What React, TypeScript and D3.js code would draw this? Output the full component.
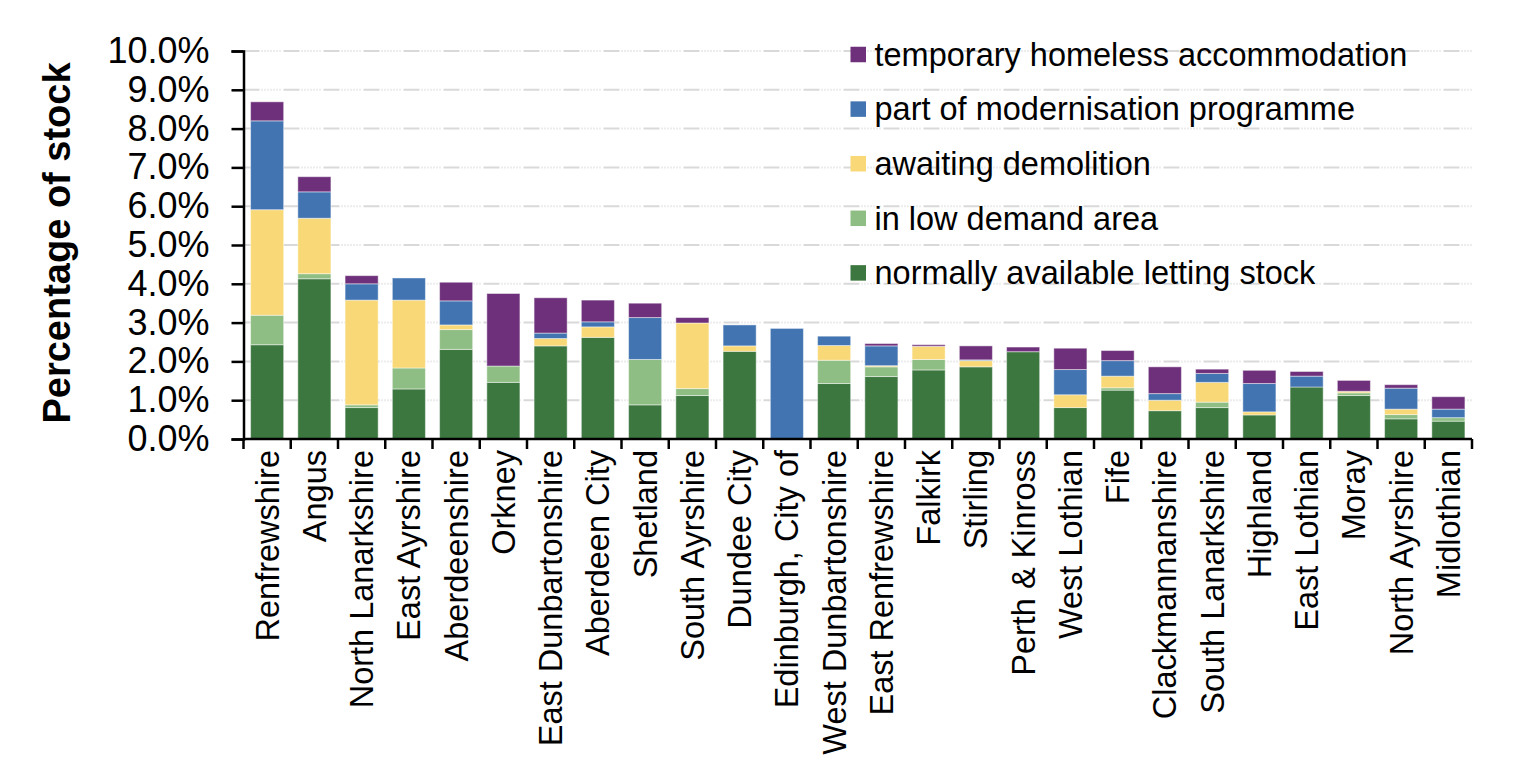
import React, { useRef, useEffect } from "react";
import * as d3 from "d3";

const councils = [
  "Renfrewshire",
  "Angus",
  "North Lanarkshire",
  "East Ayrshire",
  "Aberdeenshire",
  "Orkney",
  "East Dunbartonshire",
  "Aberdeen City",
  "Shetland",
  "South Ayrshire",
  "Dundee City",
  "Edinburgh, City of",
  "West Dunbartonshire",
  "East Renfrewshire",
  "Falkirk",
  "Stirling",
  "Perth & Kinross",
  "West Lothian",
  "Fife",
  "Clackmannanshire",
  "South Lanarkshire",
  "Highland",
  "East Lothian",
  "Moray",
  "North Ayrshire",
  "Midlothian",
];

// values in % of stock, bottom to top of each stack
const normallyAvailable = [
  2.43, 4.13, 0.81, 1.29, 2.31, 1.46, 2.4, 2.62, 0.88, 1.12, 2.26, 0, 1.43,
  1.61, 1.78, 1.86, 2.25, 0.81, 1.26, 0.73, 0.81, 0.62, 1.34, 1.12, 0.52, 0.46,
];
const lowDemand = [
  0.76, 0.13, 0.07, 0.54, 0.51, 0.42, 0, 0, 1.17, 0.18, 0, 0, 0.6, 0.25, 0.27,
  0, 0, 0, 0.06, 0, 0.14, 0, 0, 0.07, 0.11, 0.09,
];
const awaitingDemolition = [
  2.72, 1.43, 2.7, 1.75, 0.12, 0, 0.19, 0.27, 0, 1.69, 0.14, 0, 0.38, 0.03,
  0.34, 0.16, 0, 0.33, 0.3, 0.27, 0.51, 0.08, 0, 0.04, 0.14, 0,
];
const modernisation = [
  2.29, 0.68, 0.42, 0.57, 0.62, 0, 0.14, 0.13, 1.08, 0, 0.54, 2.85, 0.24, 0.51,
  0, 0.02, 0, 0.65, 0.4, 0.17, 0.23, 0.73, 0.28, 0, 0.54, 0.22,
];
const temporaryHomeless = [
  0.49, 0.39, 0.21, 0, 0.48, 1.87, 0.91, 0.56, 0.37, 0.14, 0, 0, 0, 0.06, 0.04,
  0.36, 0.12, 0.55, 0.26, 0.69, 0.11, 0.34, 0.12, 0.28, 0.09, 0.32,
];

const seriesNames = [
  "normally available letting stock",
  "in low demand area",
  "awaiting demolition",
  "part of modernisation programme",
  "temporary homeless accommodation",
];
const seriesValues = [
  normallyAvailable,
  lowDemand,
  awaitingDemolition,
  modernisation,
  temporaryHomeless,
];
const seriesColors = ["#3c773f", "#8ebe83", "#f8d877", "#4274b1", "#6e307b"];

const yTicks = [0, 1, 2, 3, 4, 5, 6, 7, 8, 9, 10];

const width = 1534;
const height = 782;
const margin = { top: 51, right: 62, bottom: 343, left: 243.5 };
const font = "'Liberation Sans', Arial, sans-serif";

function StockChart() {
  const svgRef = useRef<SVGSVGElement>(null);

  useEffect(() => {
    if (!svgRef.current) {
      return;
    }
    const svg = d3.select(svgRef.current);
    svg.selectAll("*").remove();

    const rows = councils.map((name, i) => {
      const row: Record<string, number | string> = { name };
      seriesNames.forEach((s, k) => {
        row[s] = seriesValues[k][i];
      });
      return row;
    });

    const x = d3
      .scaleBand()
      .domain(councils)
      .range([margin.left, width - margin.right])
      .paddingInner(0.3)
      .paddingOuter(0.15);

    const y = d3
      .scaleLinear()
      .domain([0, 10])
      .range([height - margin.bottom, margin.top]);

    // gridlines
    svg
      .append("g")
      .selectAll("line")
      .data(yTicks.slice(1))
      .join("line")
      .attr("x1", margin.left)
      .attr("x2", width - margin.right)
      .attr("y1", (d) => y(d))
      .attr("y2", (d) => y(d))
      .attr("stroke", "#d9d9d9")
      .attr("stroke-width", 2)
      .attr("stroke-dasharray", "16,2,1,2,1,2,1,2,1,2,1,2,1,2,1,3");

    const stack = d3
      .stack<Record<string, number | string>>()
      .keys(seriesNames)
      .value((d, key) => d[key] as number);
    const stacked = stack(rows);

    svg
      .append("g")
      .selectAll("g")
      .data(stacked)
      .join("g")
      .attr("fill", (_, i) => seriesColors[i])
      .selectAll("rect")
      .data((d) => d.filter((p) => p[1] - p[0] > 0))
      .join("rect")
      .attr("x", (d) => x(d.data.name as string)!)
      .attr("width", x.bandwidth())
      .attr("y", (d) => y(d[1]))
      .attr("height", (d) => y(d[0]) - y(d[1]))
      .attr("stroke", "rgba(255,255,255,0.45)")
      .attr("stroke-width", 1);

    // y axis
    const yAxis = svg
      .append("g")
      .attr("transform", `translate(${margin.left},0)`)
      .call(
        d3
          .axisLeft(y)
          .tickValues(yTicks)
          .tickSize(12)
          .tickPadding(22)
          .tickFormat((d) => `${(d as number).toFixed(1)}%`)
      );
    yAxis.select(".domain").attr("stroke", "#000").attr("stroke-width", 2.5);
    yAxis.selectAll(".tick line").attr("stroke", "#000").attr("stroke-width", 2.5);
    yAxis
      .selectAll(".tick text")
      .attr("fill", "#000")
      .style("font-family", font)
      .style("font-size", "36px");

    // x axis
    const x0 = height - margin.bottom;
    const xAxis = svg.append("g");
    xAxis
      .append("line")
      .attr("x1", margin.left)
      .attr("x2", width - margin.right)
      .attr("y1", x0)
      .attr("y2", x0)
      .attr("stroke", "#000")
      .attr("stroke-width", 2.5);
    const step = x.step();
    const start = margin.left;
    xAxis
      .selectAll("line.tick")
      .data(d3.range(councils.length + 1))
      .join("line")
      .attr("class", "tick")
      .attr("x1", (i) => start + i * step)
      .attr("x2", (i) => start + i * step)
      .attr("y1", x0)
      .attr("y2", x0 + 10)
      .attr("stroke", "#000")
      .attr("stroke-width", 2.5);
    xAxis
      .selectAll("text")
      .data(councils)
      .join("text")
      .attr(
        "transform",
        (d) => `translate(${x(d)! + x.bandwidth() / 2},${x0 + 11}) rotate(-90)`
      )
      .attr("text-anchor", "end")
      .attr("dy", "0.35em")
      .style("font-family", font)
      .style("font-size", "32.5px")
      .text((d) => d);

    // y title
    svg
      .append("text")
      .attr("transform", `translate(57,${(margin.top + x0) / 2 - 2}) rotate(-90)`)
      .attr("text-anchor", "middle")
      .attr("dy", "0.35em")
      .style("font-family", font)
      .style("font-weight", "bold")
      .style("font-size", "38px")
      .text("Percentage of stock");

    // legend, top entry first
    const legendOrder = [4, 3, 2, 1, 0];
    const legend = svg
      .append("g")
      .selectAll("g")
      .data(legendOrder)
      .join("g")
      .attr("transform", (_, i) => `translate(850.5,${54.5 + i * 54.6})`);
    legend
      .append("rect")
      .attr("x", 0)
      .attr("y", -7.75)
      .attr("width", 15.5)
      .attr("height", 15.5)
      .attr("fill", (k) => seriesColors[k]);
    legend
      .append("text")
      .attr("x", 24)
      .attr("dy", "0.35em")
      .style("font-family", font)
      .style("font-size", "32.5px")
      .text((k) => seriesNames[k]);
  }, []);

  return (
    <svg
      ref={svgRef}
      width={width}
      height={height}
      style={{ position: "absolute", left: 0, top: 0, background: "#fff" }}
    />
  );
}

export default function App() {
  return <StockChart />;
}
